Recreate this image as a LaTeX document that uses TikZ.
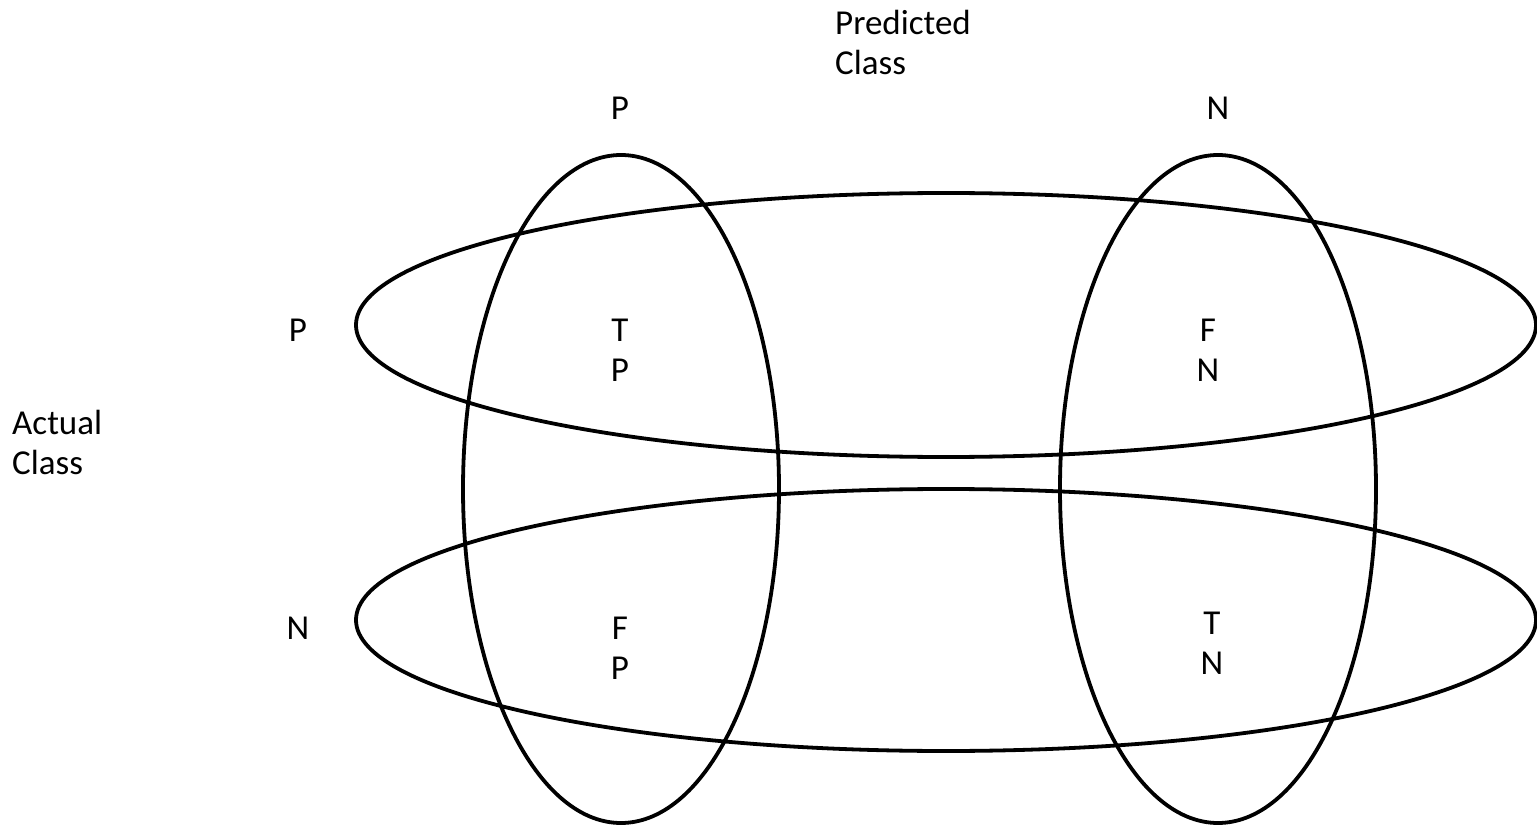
\documentclass[tikz,border=0pt]{standalone}
\usepackage{fontspec}
\setmainfont{Carlito}
\usepackage{tikz}
\usetikzlibrary{positioning}

\begin{document}
\begin{tikzpicture}[x=1pt, y=-1pt,
  lbl/.style={font=\fontsize{35}{40}\selectfont, align=center, inner sep=0pt},
  ring/.style={draw=black, line width=3.8pt}]
  \useasboundingbox (0,0) rectangle (1537,826);

  % Ellipses: predicted (vertical) and actual (horizontal)
  \draw[ring] (621,489) ellipse [x radius=158, y radius=334];
  \draw[ring] (1218,489) ellipse [x radius=158, y radius=334];
  \draw[ring] (946,325) ellipse [x radius=590, y radius=132];
  \draw[ring] (946,620) ellipse [x radius=590, y radius=131];

  % Headers
  \node[lbl, align=left, anchor=west] (pred) at (835,42) {Predicted\\Class};
  \node[lbl, align=left, anchor=west] (act) at (12,442) {Actual\\Class};
  \node[lbl] (predP) at (620,108) {P};
  \node[lbl] (predN) at (1218,108) {N};
  \node[lbl] (actP) at (298,330) {P};
  \node[lbl] (actN) at (298,628) {N};

  % Cells
  \node[lbl] (tp) at (620,350) {T\\P};
  \node[lbl] (fn) at (1208,350) {F\\N};
  \node[lbl] (fp) at (620,648) {F\\P};
  \node[lbl] (tn) at (1212,643) {T\\N};
\end{tikzpicture}
\end{document}
